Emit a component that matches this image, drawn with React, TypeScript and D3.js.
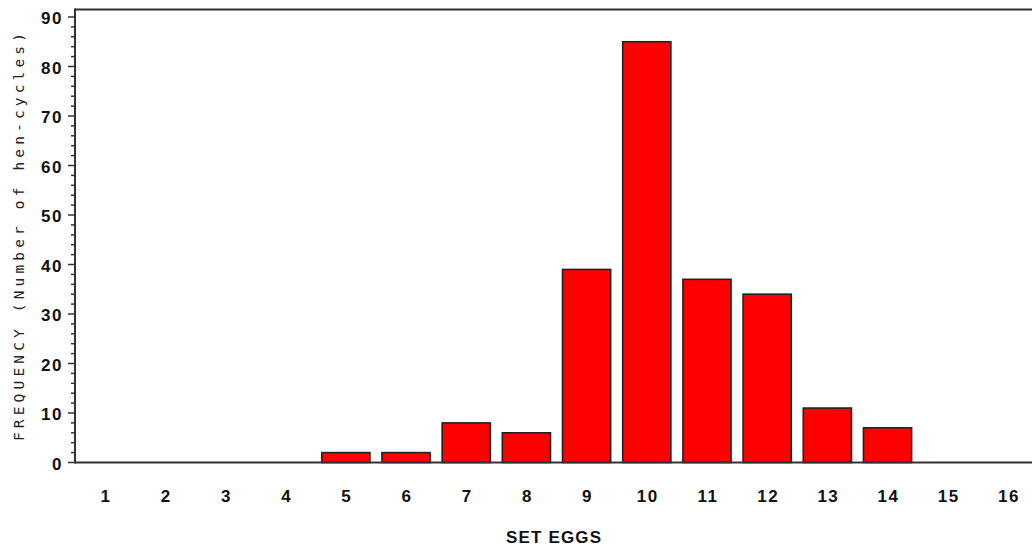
import { useRef, useEffect } from "react";
import * as d3 from "d3";

const WIDTH = 1032;
const HEIGHT = 552;
const LEFT = 75;
const TOP = 9.5;
const BOTTOM_Y = 462.5;
const RIGHT_X = 1038;

const CATEGORIES = ["1", "2", "3", "4", "5", "6", "7", "8", "9", "10", "11", "12", "13", "14", "15", "16"];
const FREQUENCY = [0, 0, 0, 0, 2, 2, 8, 6, 39, 85, 37, 34, 11, 7, 0, 0];
const Y_TICKS = [0, 10, 20, 30, 40, 50, 60, 70, 80, 90];

export default function App() {
  const svgRef = useRef<SVGSVGElement>(null);

  useEffect(() => {
    const svg = d3.select(svgRef.current);
    svg.selectAll("*").remove();

    const x = d3.scaleBand<string>()
      .domain(CATEGORIES)
      .range([LEFT, RIGHT_X])
      .paddingInner(0.2)
      .paddingOuter(0.1);

    const y = d3.scaleLinear().domain([0, 90]).range([BOTTOM_Y, 17]);

    const data = CATEGORIES.map((c, i) => ({ c, v: FREQUENCY[i] }));

    // bars
    svg.append("g")
      .selectAll("rect")
      .data(data.filter(d => d.v > 0))
      .join("rect")
      .attr("x", d => x(d.c)!)
      .attr("y", d => y(d.v))
      .attr("width", x.bandwidth())
      .attr("height", d => y(0) - y(d.v))
      .attr("fill", "#ff0000")
      .attr("stroke", "#222")
      .attr("stroke-width", 1.6);

    // frame: top, left, bottom
    const frame = svg.append("g").attr("stroke", "#333").attr("stroke-width", 2).attr("fill", "none");
    frame.append("line").attr("x1", LEFT).attr("x2", WIDTH).attr("y1", TOP).attr("y2", TOP);
    frame.append("line").attr("x1", LEFT).attr("x2", LEFT).attr("y1", TOP - 1).attr("y2", BOTTOM_Y + 1);
    frame.append("line").attr("x1", LEFT).attr("x2", WIDTH).attr("y1", BOTTOM_Y).attr("y2", BOTTOM_Y);

    // y ticks (major every 10, minor every 2)
    const minor = d3.range(0, 91, 2).filter(v => v % 10 !== 0);
    svg.append("g")
      .selectAll("line")
      .data(minor)
      .join("line")
      .attr("x1", LEFT - 4)
      .attr("x2", LEFT)
      .attr("y1", d => y(d))
      .attr("y2", d => y(d))
      .attr("stroke", "#333")
      .attr("stroke-width", 1.5);

    svg.append("g")
      .selectAll("line")
      .data(Y_TICKS)
      .join("line")
      .attr("x1", LEFT - 7)
      .attr("x2", LEFT)
      .attr("y1", d => y(d))
      .attr("y2", d => y(d))
      .attr("stroke", "#333")
      .attr("stroke-width", 1.5);

    svg.append("g")
      .selectAll("text")
      .data(Y_TICKS)
      .join("text")
      .attr("x", 63)
      .attr("y", d => y(d) + 7)
      .attr("text-anchor", "end")
      .attr("font-family", "Liberation Sans, Arial, sans-serif")
      .attr("font-weight", "bold")
      .attr("font-size", 17)
      .attr("letter-spacing", 1.5)
      .attr("fill", "#111")
      .text(d => d);

    // x tick labels
    svg.append("g")
      .selectAll("text")
      .data(CATEGORIES)
      .join("text")
      .attr("x", d => x(d)! + x.bandwidth() / 2 + 1)
      .attr("y", 502)
      .attr("text-anchor", "middle")
      .attr("font-family", "Liberation Sans, Arial, sans-serif")
      .attr("font-weight", "bold")
      .attr("font-size", 17)
      .attr("letter-spacing", 1.5)
      .attr("fill", "#111")
      .text(d => d);

    // axis titles
    svg.append("text")
      .attr("x", 506)
      .attr("y", 543)
      .attr("textLength", 95)
      .attr("lengthAdjust", "spacing")
      .attr("font-family", "Liberation Sans, Arial, sans-serif")
      .attr("font-weight", "bold")
      .attr("font-size", 17)
      .attr("fill", "#111")
      .text("SET EGGS");

    svg.append("text")
      .attr("transform", "translate(24, 441) rotate(-90)")
      .attr("textLength", 408)
      .attr("lengthAdjust", "spacing")
      .attr("font-family", "DejaVu Sans Mono, monospace")
      .attr("font-size", 14.5)
      .attr("fill", "#222")
      .text("FREQUENCY (Number of hen-cycles)");
  }, []);

  return (
    <svg
      ref={svgRef}
      width={WIDTH}
      height={HEIGHT}
      style={{ position: "absolute", left: 0, top: 0, background: "#fff" }}
    />
  );
}
